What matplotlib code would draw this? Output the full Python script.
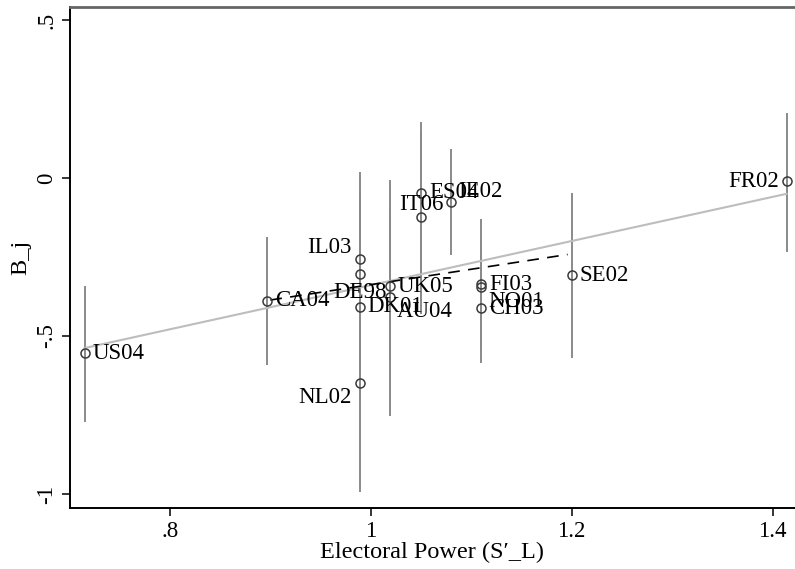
import matplotlib
matplotlib.use("Agg")
import matplotlib.pyplot as plt

# country-year cases, electoral power and estimated B_j with interval ends
labels = ["US04", "CA04", "IL03", "DE98", "DK01", "NL02", "UK05", "AU04",
          "IT06", "ES04", "IE02", "FI03", "NO01", "CH03", "SE02", "FR02"]
power = [0.715, 0.897, 0.989, 0.989, 0.989, 0.989, 1.019, 1.019,
         1.05, 1.05, 1.08, 1.11, 1.11, 1.11, 1.20, 1.414]
bj = [-0.554, -0.389, -0.256, -0.304, -0.408, -0.649, -0.342, -0.377,
      -0.123, -0.047, -0.076, -0.336, -0.345, -0.412, -0.307, -0.010]
ci_hi = [-0.342, -0.187, 0.019, -0.05, -0.10, -0.30, -0.006, -0.10,
         0.146, 0.177, 0.092, -0.13, -0.20, -0.25, -0.047, 0.206]
ci_lo = [-0.772, -0.592, -0.53, -0.56, -0.70, -0.994, -0.753, -0.576,
         -0.43, -0.39, -0.244, -0.585, -0.544, -0.50, -0.570, -0.233]
# clock position of each marker label (Stata style)
clock = [3, 3, 10, 6, 3, 8, 3, 4, 12, 3, 2, 3, 4, 3, 3, 9]

# fitted lines: all cases (grey) and without the two extremes (dashed)
fit_all_x = [0.715, 1.414]
fit_all_y = [-0.538, -0.050]
fit_sub_x = [0.90, 1.196]
fit_sub_y = [-0.386, -0.242]

xticks = [0.8, 1.0, 1.2, 1.4]
xticklabels = [".8", "1", "1.2", "1.4"]
yticks = [0.5, 0.0, -0.5, -1.0]
yticklabels = [".5", "0", "-.5", "-1"]

plt.rcParams["font.family"] = ["Liberation Serif", "DejaVu Serif"]

fig = plt.figure(figsize=(7.95, 5.69), dpi=100)
ax = fig.add_axes([0.088, 0.1072, 0.912, 0.8805])

ax.vlines(power, ci_lo, ci_hi, color="#8a8a8a", lw=1.4, zorder=1)
ax.plot(fit_all_x, fit_all_y, color="#bdbdbd", lw=1.5, zorder=2)
ax.plot(fit_sub_x, fit_sub_y, color="black", lw=1.2, dashes=(7, 5), zorder=2)
ax.plot(power, bj, "o", ms=6.5, mfc="none", mec="#3a3a3a", mew=1.1, zorder=3)

offsets = {
    3: ((8, 0), "left", "center"),
    9: ((-8, 0), "right", "center"),
    12: ((0, 7), "center", "baseline"),
    2: ((7, 11), "left", "center"),
    10: ((-8, 11), "right", "center"),
    6: ((0, -8), "center", "top"),
    4: ((7, -14), "left", "center"),
    8: ((-8, -14), "right", "center"),
}
for lab, x, y, c in zip(labels, power, bj, clock):
    off, ha, va = offsets[c]
    ax.annotate(lab, (x, y), xytext=off, textcoords="offset pixels",
                ha=ha, va=va, fontsize=16.5, color="black", zorder=4)

ax.set_xlim(0.7005, 1.4224)
ax.set_ylim(-1.044, 0.541)
ax.set_xticks(xticks)
ax.set_xticklabels(xticklabels, fontsize=16.5)
ax.set_yticks(yticks)
ax.set_yticklabels(yticklabels, fontsize=16.5, rotation=90, va="center")
ax.tick_params(axis="both", direction="out", length=6, width=1.1, pad=3)
ax.set_xlabel("Electoral Power (S\u2032_L)", fontsize=17.5, labelpad=0)
ax.set_ylabel("B_j", fontsize=17.5, labelpad=4)

ax.spines["right"].set_visible(False)
ax.spines["top"].set_color("#666666")
ax.spines["top"].set_linewidth(2)
ax.spines["left"].set_linewidth(1.4)
ax.spines["bottom"].set_linewidth(1.4)

fig.savefig("out.png", dpi=100)
